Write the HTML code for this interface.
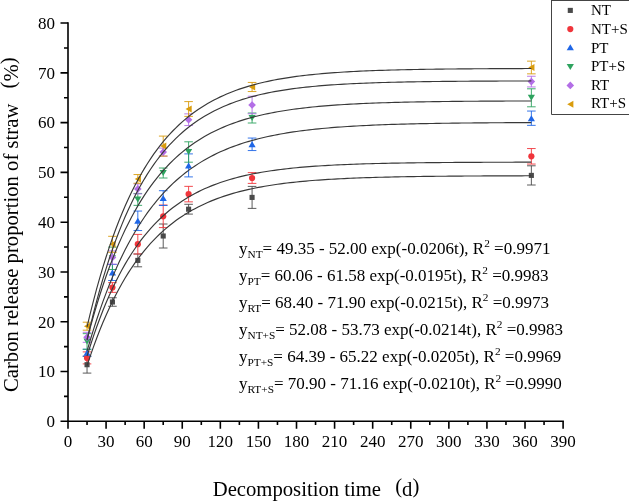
<!DOCTYPE html>
<html><head><meta charset="utf-8"><style>
html,body{margin:0;padding:0;background:#fff;width:629px;height:502px;overflow:hidden;}
svg{display:block;}
#w{position:absolute;left:0;top:0;width:629px;height:502px;will-change:transform;background:#fff;}
text{font-family:"Liberation Serif", serif;}
</style></head><body><div id="w">
<svg width="629" height="502" viewBox="0 0 629 502">
<g font-family="Liberation Serif, serif" font-size="17" fill="#000">
<text x="55.00" y="427.10" text-anchor="end">0</text>
<text x="55.00" y="377.32" text-anchor="end">10</text>
<text x="55.00" y="327.54" text-anchor="end">20</text>
<text x="55.00" y="277.76" text-anchor="end">30</text>
<text x="55.00" y="227.98" text-anchor="end">40</text>
<text x="55.00" y="178.20" text-anchor="end">50</text>
<text x="55.00" y="128.42" text-anchor="end">60</text>
<text x="55.00" y="78.64" text-anchor="end">70</text>
<text x="55.00" y="28.86" text-anchor="end">80</text>
<text x="68.00" y="447.4" text-anchor="middle">0</text>
<text x="106.08" y="447.4" text-anchor="middle">30</text>
<text x="144.17" y="447.4" text-anchor="middle">60</text>
<text x="182.25" y="447.4" text-anchor="middle">90</text>
<text x="220.34" y="447.4" text-anchor="middle">120</text>
<text x="258.42" y="447.4" text-anchor="middle">150</text>
<text x="296.51" y="447.4" text-anchor="middle">180</text>
<text x="334.59" y="447.4" text-anchor="middle">210</text>
<text x="372.68" y="447.4" text-anchor="middle">240</text>
<text x="410.76" y="447.4" text-anchor="middle">270</text>
<text x="448.85" y="447.4" text-anchor="middle">300</text>
<text x="486.93" y="447.4" text-anchor="middle">330</text>
<text x="525.02" y="447.4" text-anchor="middle">360</text>
<text x="563.10" y="447.4" text-anchor="middle">390</text>
</g>
<g><path d="M87.04,356.30V373.10M82.74,356.30H91.34M82.74,373.10H91.34" stroke="#4a4a4a" stroke-width="0.9" fill="none"/>
<path d="M112.43,297.75V306.25M108.13,297.75H116.73M108.13,306.25H116.73" stroke="#4a4a4a" stroke-width="0.9" fill="none"/>
<path d="M137.82,254.00V266.80M133.52,254.00H142.12M133.52,266.80H142.12" stroke="#4a4a4a" stroke-width="0.9" fill="none"/>
<path d="M163.21,224.00V248.00M158.91,224.00H167.51M158.91,248.00H167.51" stroke="#4a4a4a" stroke-width="0.9" fill="none"/>
<path d="M188.60,204.30V214.10M184.30,204.30H192.90M184.30,214.10H192.90" stroke="#4a4a4a" stroke-width="0.9" fill="none"/>
<path d="M252.08,186.40V208.40M247.78,186.40H256.38M247.78,208.40H256.38" stroke="#4a4a4a" stroke-width="0.9" fill="none"/>
<path d="M531.36,165.80V185.00M527.06,165.80H535.66M527.06,185.00H535.66" stroke="#4a4a4a" stroke-width="0.9" fill="none"/>
<path d="M87.04,351.90V363.90M82.74,351.90H91.34M82.74,363.90H91.34" stroke="#f0353b" stroke-width="0.9" fill="none"/>
<path d="M112.43,282.65V292.35M108.13,282.65H116.73M108.13,292.35H116.73" stroke="#f0353b" stroke-width="0.9" fill="none"/>
<path d="M137.82,234.40V254.00M133.52,234.40H142.12M133.52,254.00H142.12" stroke="#f0353b" stroke-width="0.9" fill="none"/>
<path d="M163.21,205.00V227.60M158.91,205.00H167.51M158.91,227.60H167.51" stroke="#f0353b" stroke-width="0.9" fill="none"/>
<path d="M188.60,186.35V201.85M184.30,186.35H192.90M184.30,201.85H192.90" stroke="#f0353b" stroke-width="0.9" fill="none"/>
<path d="M252.08,172.60V183.40M247.78,172.60H256.38M247.78,183.40H256.38" stroke="#f0353b" stroke-width="0.9" fill="none"/>
<path d="M531.36,148.55V164.05M527.06,148.55H535.66M527.06,164.05H535.66" stroke="#f0353b" stroke-width="0.9" fill="none"/>
<path d="M87.04,349.20V356.20M82.74,349.20H91.34M82.74,356.20H91.34" stroke="#1f66e6" stroke-width="0.9" fill="none"/>
<path d="M112.43,264.50V280.50M108.13,264.50H116.73M108.13,280.50H116.73" stroke="#1f66e6" stroke-width="0.9" fill="none"/>
<path d="M137.82,211.05V230.55M133.52,211.05H142.12M133.52,230.55H142.12" stroke="#1f66e6" stroke-width="0.9" fill="none"/>
<path d="M163.21,190.70V205.50M158.91,190.70H167.51M158.91,205.50H167.51" stroke="#1f66e6" stroke-width="0.9" fill="none"/>
<path d="M188.60,153.90V176.90M184.30,153.90H192.90M184.30,176.90H192.90" stroke="#1f66e6" stroke-width="0.9" fill="none"/>
<path d="M252.08,138.05V150.55M247.78,138.05H256.38M247.78,150.55H256.38" stroke="#1f66e6" stroke-width="0.9" fill="none"/>
<path d="M531.36,111.05V125.35M527.06,111.05H535.66M527.06,125.35H535.66" stroke="#1f66e6" stroke-width="0.9" fill="none"/>
<path d="M87.04,333.65V349.35M82.74,333.65H91.34M82.74,349.35H91.34" stroke="#2ea35f" stroke-width="0.9" fill="none"/>
<path d="M112.43,247.10V269.50M108.13,247.10H116.73M108.13,269.50H116.73" stroke="#2ea35f" stroke-width="0.9" fill="none"/>
<path d="M137.82,193.45V205.35M133.52,193.45H142.12M133.52,205.35H142.12" stroke="#2ea35f" stroke-width="0.9" fill="none"/>
<path d="M163.21,168.00V178.00M158.91,168.00H167.51M158.91,178.00H167.51" stroke="#2ea35f" stroke-width="0.9" fill="none"/>
<path d="M188.60,141.80V162.20M184.30,141.80H192.90M184.30,162.20H192.90" stroke="#2ea35f" stroke-width="0.9" fill="none"/>
<path d="M252.08,113.00V123.00M247.78,113.00H256.38M247.78,123.00H256.38" stroke="#2ea35f" stroke-width="0.9" fill="none"/>
<path d="M531.36,88.80V106.80M527.06,88.80H535.66M527.06,106.80H535.66" stroke="#2ea35f" stroke-width="0.9" fill="none"/>
<path d="M87.04,332.30V342.30M82.74,332.30H91.34M82.74,342.30H91.34" stroke="#b36ee6" stroke-width="0.9" fill="none"/>
<path d="M112.43,250.90V264.10M108.13,250.90H116.73M108.13,264.10H116.73" stroke="#b36ee6" stroke-width="0.9" fill="none"/>
<path d="M137.82,183.90V193.90M133.52,183.90H142.12M133.52,193.90H142.12" stroke="#b36ee6" stroke-width="0.9" fill="none"/>
<path d="M163.21,148.10V156.10M158.91,148.10H167.51M158.91,156.10H167.51" stroke="#b36ee6" stroke-width="0.9" fill="none"/>
<path d="M188.60,113.85V125.55M184.30,113.85H192.90M184.30,125.55H192.90" stroke="#b36ee6" stroke-width="0.9" fill="none"/>
<path d="M252.08,96.25V113.75M247.78,96.25H256.38M247.78,113.75H256.38" stroke="#b36ee6" stroke-width="0.9" fill="none"/>
<path d="M531.36,76.25V86.95M527.06,76.25H535.66M527.06,86.95H535.66" stroke="#b36ee6" stroke-width="0.9" fill="none"/>
<path d="M87.04,322.20V330.20M82.74,322.20H91.34M82.74,330.20H91.34" stroke="#d99c0d" stroke-width="0.9" fill="none"/>
<path d="M112.43,236.30V252.30M108.13,236.30H116.73M108.13,252.30H116.73" stroke="#d99c0d" stroke-width="0.9" fill="none"/>
<path d="M137.82,174.55V183.25M133.52,174.55H142.12M133.52,183.25H142.12" stroke="#d99c0d" stroke-width="0.9" fill="none"/>
<path d="M163.21,136.10V156.10M158.91,136.10H167.51M158.91,156.10H167.51" stroke="#d99c0d" stroke-width="0.9" fill="none"/>
<path d="M188.60,101.60V116.40M184.30,101.60H192.90M184.30,116.40H192.90" stroke="#d99c0d" stroke-width="0.9" fill="none"/>
<path d="M252.08,82.45V91.55M247.78,82.45H256.38M247.78,91.55H256.38" stroke="#d99c0d" stroke-width="0.9" fill="none"/>
<path d="M531.36,61.15V73.85M527.06,61.15H535.66M527.06,73.85H535.66" stroke="#d99c0d" stroke-width="0.9" fill="none"/></g>
<g><rect x="84.49" y="362.15" width="5.10" height="5.10" fill="#4a4a4a"/>
<rect x="109.88" y="299.45" width="5.10" height="5.10" fill="#4a4a4a"/>
<rect x="135.27" y="257.85" width="5.10" height="5.10" fill="#4a4a4a"/>
<rect x="160.66" y="233.45" width="5.10" height="5.10" fill="#4a4a4a"/>
<rect x="186.05" y="206.65" width="5.10" height="5.10" fill="#4a4a4a"/>
<rect x="249.53" y="194.85" width="5.10" height="5.10" fill="#4a4a4a"/>
<rect x="528.81" y="172.85" width="5.10" height="5.10" fill="#4a4a4a"/>
<circle cx="87.04" cy="357.90" r="3.10" fill="#f0353b"/>
<circle cx="112.43" cy="287.50" r="3.10" fill="#f0353b"/>
<circle cx="137.82" cy="244.20" r="3.10" fill="#f0353b"/>
<circle cx="163.21" cy="216.30" r="3.10" fill="#f0353b"/>
<circle cx="188.60" cy="194.10" r="3.10" fill="#f0353b"/>
<circle cx="252.08" cy="178.00" r="3.10" fill="#f0353b"/>
<circle cx="531.36" cy="156.30" r="3.10" fill="#f0353b"/>
<path d="M87.04,349.70L90.64,355.70L83.44,355.70Z" fill="#1f66e6"/>
<path d="M112.43,269.50L116.03,275.50L108.83,275.50Z" fill="#1f66e6"/>
<path d="M137.82,217.80L141.42,223.80L134.22,223.80Z" fill="#1f66e6"/>
<path d="M163.21,195.10L166.81,201.10L159.61,201.10Z" fill="#1f66e6"/>
<path d="M188.60,162.40L192.20,168.40L185.00,168.40Z" fill="#1f66e6"/>
<path d="M252.08,141.30L255.68,147.30L248.48,147.30Z" fill="#1f66e6"/>
<path d="M531.36,115.20L534.96,121.20L527.76,121.20Z" fill="#1f66e6"/>
<path d="M87.04,344.50L90.64,338.50L83.44,338.50Z" fill="#2ea35f"/>
<path d="M112.43,261.30L116.03,255.30L108.83,255.30Z" fill="#2ea35f"/>
<path d="M137.82,202.40L141.42,196.40L134.22,196.40Z" fill="#2ea35f"/>
<path d="M163.21,176.00L166.81,170.00L159.61,170.00Z" fill="#2ea35f"/>
<path d="M188.60,155.00L192.20,149.00L185.00,149.00Z" fill="#2ea35f"/>
<path d="M252.08,121.00L255.68,115.00L248.48,115.00Z" fill="#2ea35f"/>
<path d="M531.36,100.80L534.96,94.80L527.76,94.80Z" fill="#2ea35f"/>
<path d="M87.04,333.50L90.84,337.30L87.04,341.10L83.24,337.30Z" fill="#b36ee6"/>
<path d="M112.43,253.70L116.23,257.50L112.43,261.30L108.63,257.50Z" fill="#b36ee6"/>
<path d="M137.82,185.10L141.62,188.90L137.82,192.70L134.02,188.90Z" fill="#b36ee6"/>
<path d="M163.21,148.30L167.01,152.10L163.21,155.90L159.41,152.10Z" fill="#b36ee6"/>
<path d="M188.60,115.90L192.40,119.70L188.60,123.50L184.80,119.70Z" fill="#b36ee6"/>
<path d="M252.08,101.20L255.88,105.00L252.08,108.80L248.28,105.00Z" fill="#b36ee6"/>
<path d="M531.36,77.80L535.16,81.60L531.36,85.40L527.56,81.60Z" fill="#b36ee6"/>
<path d="M83.94,326.20L90.14,322.70L90.14,329.70Z" fill="#d99c0d"/>
<path d="M109.33,244.30L115.53,240.80L115.53,247.80Z" fill="#d99c0d"/>
<path d="M134.72,178.90L140.92,175.40L140.92,182.40Z" fill="#d99c0d"/>
<path d="M160.11,146.10L166.31,142.60L166.31,149.60Z" fill="#d99c0d"/>
<path d="M185.50,109.00L191.70,105.50L191.70,112.50Z" fill="#d99c0d"/>
<path d="M248.98,87.00L255.18,83.50L255.18,90.50Z" fill="#d99c0d"/>
<path d="M528.26,67.50L534.46,64.00L534.46,71.00Z" fill="#d99c0d"/></g>
<g><polyline points="87.04,365.68 90.22,356.14 93.39,347.08 96.56,338.48 99.74,330.30 102.91,322.54 106.08,315.16 109.26,308.16 112.43,301.51 115.61,295.19 118.78,289.19 121.95,283.49 125.13,278.08 128.30,272.93 131.47,268.05 134.65,263.41 137.82,259.00 141.00,254.82 144.17,250.84 147.34,247.07 150.52,243.48 153.69,240.08 156.86,236.84 160.04,233.77 163.21,230.85 166.39,228.08 169.56,225.45 172.73,222.95 175.91,220.57 179.08,218.32 182.25,216.18 185.43,214.14 188.60,212.21 191.78,210.37 194.95,208.63 198.12,206.97 201.30,205.40 204.47,203.90 207.64,202.49 210.82,201.14 213.99,199.86 217.16,198.64 220.34,197.49 223.51,196.39 226.69,195.35 229.86,194.36 233.03,193.42 236.21,192.53 239.38,191.68 242.55,190.87 245.73,190.11 248.90,189.38 252.08,188.69 255.25,188.04 258.42,187.41 261.60,186.82 264.77,186.26 267.94,185.73 271.12,185.22 274.29,184.74 277.47,184.28 280.64,183.85 283.81,183.44 286.99,183.05 290.16,182.67 293.33,182.32 296.51,181.98 299.68,181.67 302.86,181.36 306.03,181.08 309.20,180.80 312.38,180.54 315.55,180.30 318.72,180.06 321.90,179.84 325.07,179.63 328.24,179.43 331.42,179.24 334.59,179.06 337.77,178.89 340.94,178.72 344.11,178.57 347.29,178.42 350.46,178.28 353.63,178.15 356.81,178.02 359.98,177.90 363.16,177.79 366.33,177.68 369.50,177.58 372.68,177.48 375.85,177.39 379.02,177.30 382.20,177.22 385.37,177.14 388.55,177.06 391.72,176.99 394.89,176.92 398.07,176.86 401.24,176.80 404.41,176.74 407.59,176.68 410.76,176.63 413.94,176.58 417.11,176.53 420.28,176.49 423.46,176.44 426.63,176.40 429.80,176.37 432.98,176.33 436.15,176.29 439.33,176.26 442.50,176.23 445.67,176.20 448.85,176.17 452.02,176.14 455.19,176.12 458.37,176.09 461.54,176.07 464.71,176.05 467.89,176.03 471.06,176.01 474.24,175.99 477.41,175.97 480.58,175.96 483.76,175.94 486.93,175.92 490.10,175.91 493.28,175.90 496.45,175.88 499.63,175.87 502.80,175.86 505.97,175.85 509.15,175.84 512.32,175.83 515.49,175.82 518.67,175.81 521.84,175.80 525.02,175.79 528.19,175.78 531.36,175.78" fill="none" stroke="#383838" stroke-width="1.15"/>
<polyline points="87.04,356.07 90.22,345.97 93.39,336.38 96.56,327.30 99.74,318.69 102.91,310.53 106.08,302.80 109.26,295.47 112.43,288.52 115.61,281.93 118.78,275.68 121.95,269.76 125.13,264.15 128.30,258.83 131.47,253.79 134.65,249.01 137.82,244.48 141.00,240.19 144.17,236.11 147.34,232.26 150.52,228.60 153.69,225.13 156.86,221.85 160.04,218.73 163.21,215.78 166.39,212.98 169.56,210.32 172.73,207.81 175.91,205.43 179.08,203.17 182.25,201.02 185.43,198.99 188.60,197.07 191.78,195.24 194.95,193.51 198.12,191.88 201.30,190.32 204.47,188.85 207.64,187.45 210.82,186.13 213.99,184.87 217.16,183.68 220.34,182.56 223.51,181.49 226.69,180.48 229.86,179.52 233.03,178.61 236.21,177.74 239.38,176.93 242.55,176.15 245.73,175.42 248.90,174.72 252.08,174.06 255.25,173.43 258.42,172.84 261.60,172.28 264.77,171.74 267.94,171.24 271.12,170.76 274.29,170.31 277.47,169.88 280.64,169.47 283.81,169.08 286.99,168.71 290.16,168.37 293.33,168.04 296.51,167.73 299.68,167.43 302.86,167.15 306.03,166.88 309.20,166.63 312.38,166.39 315.55,166.17 318.72,165.95 321.90,165.75 325.07,165.56 328.24,165.37 331.42,165.20 334.59,165.03 337.77,164.88 340.94,164.73 344.11,164.59 347.29,164.46 350.46,164.33 353.63,164.21 356.81,164.10 359.98,163.99 363.16,163.89 366.33,163.80 369.50,163.71 372.68,163.62 375.85,163.54 379.02,163.46 382.20,163.39 385.37,163.32 388.55,163.25 391.72,163.19 394.89,163.13 398.07,163.07 401.24,163.02 404.41,162.97 407.59,162.92 410.76,162.87 413.94,162.83 417.11,162.79 420.28,162.75 423.46,162.71 426.63,162.68 429.80,162.65 432.98,162.61 436.15,162.59 439.33,162.56 442.50,162.53 445.67,162.51 448.85,162.48 452.02,162.46 455.19,162.44 458.37,162.42 461.54,162.40 464.71,162.38 467.89,162.36 471.06,162.35 474.24,162.33 477.41,162.31 480.58,162.30 483.76,162.29 486.93,162.27 490.10,162.26 493.28,162.25 496.45,162.24 499.63,162.23 502.80,162.22 505.97,162.21 509.15,162.20 512.32,162.20 515.49,162.19 518.67,162.18 521.84,162.17 525.02,162.17 528.19,162.16 531.36,162.15" fill="none" stroke="#383838" stroke-width="1.15"/>
<polyline points="87.04,351.13 90.22,340.24 93.39,329.87 96.56,319.99 99.74,310.59 102.91,301.63 106.08,293.10 109.26,284.97 112.43,277.23 115.61,269.86 118.78,262.84 121.95,256.16 125.13,249.79 128.30,243.72 131.47,237.95 134.65,232.45 137.82,227.21 141.00,222.22 144.17,217.46 147.34,212.94 150.52,208.62 153.69,204.52 156.86,200.61 160.04,196.88 163.21,193.33 166.39,189.96 169.56,186.74 172.73,183.67 175.91,180.75 179.08,177.97 182.25,175.33 185.43,172.80 188.60,170.40 191.78,168.11 194.95,165.93 198.12,163.86 201.30,161.88 204.47,160.00 207.64,158.21 210.82,156.50 213.99,154.87 217.16,153.33 220.34,151.85 223.51,150.45 226.69,149.11 229.86,147.83 233.03,146.62 236.21,145.46 239.38,144.36 242.55,143.31 245.73,142.31 248.90,141.36 252.08,140.46 255.25,139.59 258.42,138.77 261.60,137.99 264.77,137.24 267.94,136.53 271.12,135.86 274.29,135.21 277.47,134.60 280.64,134.02 283.81,133.46 286.99,132.93 290.16,132.42 293.33,131.94 296.51,131.49 299.68,131.05 302.86,130.63 306.03,130.24 309.20,129.86 312.38,129.50 315.55,129.16 318.72,128.84 321.90,128.53 325.07,128.23 328.24,127.95 331.42,127.68 334.59,127.43 337.77,127.18 340.94,126.95 344.11,126.73 347.29,126.52 350.46,126.32 353.63,126.13 356.81,125.95 359.98,125.78 363.16,125.61 366.33,125.46 369.50,125.31 372.68,125.17 375.85,125.03 379.02,124.90 382.20,124.78 385.37,124.66 388.55,124.55 391.72,124.44 394.89,124.34 398.07,124.25 401.24,124.16 404.41,124.07 407.59,123.99 410.76,123.91 413.94,123.83 417.11,123.76 420.28,123.69 423.46,123.63 426.63,123.56 429.80,123.50 432.98,123.45 436.15,123.39 439.33,123.34 442.50,123.29 445.67,123.25 448.85,123.20 452.02,123.16 455.19,123.12 458.37,123.08 461.54,123.05 464.71,123.01 467.89,122.98 471.06,122.95 474.24,122.92 477.41,122.89 480.58,122.86 483.76,122.84 486.93,122.81 490.10,122.79 493.28,122.77 496.45,122.75 499.63,122.73 502.80,122.71 505.97,122.69 509.15,122.67 512.32,122.65 515.49,122.64 518.67,122.62 521.84,122.61 525.02,122.60 528.19,122.58 531.36,122.57" fill="none" stroke="#383838" stroke-width="1.15"/>
<polyline points="87.04,339.49 90.22,327.56 93.39,316.23 96.56,305.47 99.74,295.24 102.91,285.52 106.08,276.29 109.26,267.52 112.43,259.19 115.61,251.28 118.78,243.76 121.95,236.62 125.13,229.83 128.30,223.38 131.47,217.26 134.65,211.44 137.82,205.91 141.00,200.65 144.17,195.66 147.34,190.92 150.52,186.42 153.69,182.14 156.86,178.07 160.04,174.21 163.21,170.54 166.39,167.06 169.56,163.75 172.73,160.60 175.91,157.61 179.08,154.77 182.25,152.07 185.43,149.51 188.60,147.07 191.78,144.76 194.95,142.56 198.12,140.47 201.30,138.49 204.47,136.61 207.64,134.82 210.82,133.11 213.99,131.50 217.16,129.96 220.34,128.50 223.51,127.12 226.69,125.80 229.86,124.55 233.03,123.36 236.21,122.23 239.38,121.16 242.55,120.14 245.73,119.17 248.90,118.26 252.08,117.38 255.25,116.55 258.42,115.76 261.60,115.01 264.77,114.30 267.94,113.63 271.12,112.98 274.29,112.37 277.47,111.79 280.64,111.24 283.81,110.72 286.99,110.22 290.16,109.75 293.33,109.30 296.51,108.87 299.68,108.47 302.86,108.08 306.03,107.72 309.20,107.37 312.38,107.04 315.55,106.73 318.72,106.43 321.90,106.15 325.07,105.88 328.24,105.62 331.42,105.38 334.59,105.15 337.77,104.93 340.94,104.72 344.11,104.53 347.29,104.34 350.46,104.16 353.63,103.99 356.81,103.83 359.98,103.68 363.16,103.53 366.33,103.39 369.50,103.26 372.68,103.14 375.85,103.02 379.02,102.91 382.20,102.80 385.37,102.70 388.55,102.60 391.72,102.51 394.89,102.42 398.07,102.34 401.24,102.26 404.41,102.19 407.59,102.12 410.76,102.05 413.94,101.98 417.11,101.92 420.28,101.87 423.46,101.81 426.63,101.76 429.80,101.71 432.98,101.66 436.15,101.62 439.33,101.57 442.50,101.53 445.67,101.50 448.85,101.46 452.02,101.42 455.19,101.39 458.37,101.36 461.54,101.33 464.71,101.30 467.89,101.28 471.06,101.25 474.24,101.23 477.41,101.20 480.58,101.18 483.76,101.16 486.93,101.14 490.10,101.12 493.28,101.10 496.45,101.09 499.63,101.07 502.80,101.06 505.97,101.04 509.15,101.03 512.32,101.02 515.49,101.00 518.67,100.99 521.84,100.98 525.02,100.97 528.19,100.96 531.36,100.95" fill="none" stroke="#383838" stroke-width="1.15"/>
<polyline points="87.04,340.06 90.22,326.49 93.39,313.63 96.56,301.45 99.74,289.90 102.91,278.96 106.08,268.59 109.26,258.76 112.43,249.45 115.61,240.63 118.78,232.26 121.95,224.34 125.13,216.83 128.30,209.71 131.47,202.96 134.65,196.57 137.82,190.51 141.00,184.77 144.17,179.33 147.34,174.17 150.52,169.29 153.69,164.66 156.86,160.27 160.04,156.11 163.21,152.17 166.39,148.43 169.56,144.90 172.73,141.54 175.91,138.36 179.08,135.35 182.25,132.50 185.43,129.79 188.60,127.23 191.78,124.80 194.95,122.50 198.12,120.31 201.30,118.25 204.47,116.29 207.64,114.43 210.82,112.67 213.99,111.00 217.16,109.42 220.34,107.93 223.51,106.51 226.69,105.16 229.86,103.89 233.03,102.68 236.21,101.53 239.38,100.45 242.55,99.42 245.73,98.45 248.90,97.52 252.08,96.65 255.25,95.82 258.42,95.03 261.60,94.29 264.77,93.58 267.94,92.92 271.12,92.28 274.29,91.68 277.47,91.11 280.64,90.57 283.81,90.06 286.99,89.58 290.16,89.12 293.33,88.68 296.51,88.27 299.68,87.88 302.86,87.51 306.03,87.16 309.20,86.83 312.38,86.51 315.55,86.21 318.72,85.93 321.90,85.66 325.07,85.41 328.24,85.17 331.42,84.94 334.59,84.72 337.77,84.52 340.94,84.32 344.11,84.14 347.29,83.96 350.46,83.80 353.63,83.64 356.81,83.49 359.98,83.35 363.16,83.22 366.33,83.09 369.50,82.97 372.68,82.86 375.85,82.75 379.02,82.65 382.20,82.55 385.37,82.46 388.55,82.38 391.72,82.29 394.89,82.22 398.07,82.14 401.24,82.07 404.41,82.01 407.59,81.94 410.76,81.88 413.94,81.83 417.11,81.77 420.28,81.72 423.46,81.67 426.63,81.63 429.80,81.59 432.98,81.54 436.15,81.51 439.33,81.47 442.50,81.43 445.67,81.40 448.85,81.37 452.02,81.34 455.19,81.31 458.37,81.29 461.54,81.26 464.71,81.24 467.89,81.21 471.06,81.19 474.24,81.17 477.41,81.15 480.58,81.14 483.76,81.12 486.93,81.10 490.10,81.09 493.28,81.07 496.45,81.06 499.63,81.04 502.80,81.03 505.97,81.02 509.15,81.01 512.32,81.00 515.49,80.99 518.67,80.98 521.84,80.97 525.02,80.96 528.19,80.95 531.36,80.94" fill="none" stroke="#383838" stroke-width="1.15"/>
<polyline points="87.04,326.88 90.22,313.65 93.39,301.11 96.56,289.20 99.74,277.91 102.91,267.19 106.08,257.02 109.26,247.37 112.43,238.22 115.61,229.53 118.78,221.29 121.95,213.47 125.13,206.04 128.30,199.00 131.47,192.32 134.65,185.98 137.82,179.96 141.00,174.26 144.17,168.84 147.34,163.70 150.52,158.82 153.69,154.20 156.86,149.81 160.04,145.64 163.21,141.69 166.39,137.94 169.56,134.38 172.73,131.00 175.91,127.80 179.08,124.76 182.25,121.87 185.43,119.14 188.60,116.54 191.78,114.08 194.95,111.74 198.12,109.52 201.30,107.41 204.47,105.42 207.64,103.52 210.82,101.72 213.99,100.02 217.16,98.40 220.34,96.86 223.51,95.40 226.69,94.02 229.86,92.71 233.03,91.46 236.21,90.28 239.38,89.16 242.55,88.10 245.73,87.09 248.90,86.13 252.08,85.22 255.25,84.36 258.42,83.54 261.60,82.76 264.77,82.03 267.94,81.33 271.12,80.66 274.29,80.03 277.47,79.44 280.64,78.87 283.81,78.33 286.99,77.82 290.16,77.34 293.33,76.88 296.51,76.44 299.68,76.03 302.86,75.64 306.03,75.27 309.20,74.91 312.38,74.58 315.55,74.26 318.72,73.96 321.90,73.67 325.07,73.40 328.24,73.14 331.42,72.90 334.59,72.67 337.77,72.45 340.94,72.24 344.11,72.04 347.29,71.85 350.46,71.67 353.63,71.50 356.81,71.34 359.98,71.19 363.16,71.04 366.33,70.91 369.50,70.78 372.68,70.65 375.85,70.54 379.02,70.42 382.20,70.32 385.37,70.22 388.55,70.12 391.72,70.03 394.89,69.95 398.07,69.87 401.24,69.79 404.41,69.72 407.59,69.65 410.76,69.58 413.94,69.52 417.11,69.46 420.28,69.40 423.46,69.35 426.63,69.30 429.80,69.25 432.98,69.21 436.15,69.16 439.33,69.12 442.50,69.08 445.67,69.05 448.85,69.01 452.02,68.98 455.19,68.95 458.37,68.92 461.54,68.89 464.71,68.86 467.89,68.83 471.06,68.81 474.24,68.79 477.41,68.77 480.58,68.74 483.76,68.72 486.93,68.71 490.10,68.69 493.28,68.67 496.45,68.66 499.63,68.64 502.80,68.63 505.97,68.61 509.15,68.60 512.32,68.59 515.49,68.58 518.67,68.56 521.84,68.55 525.02,68.54 528.19,68.53 531.36,68.53" fill="none" stroke="#383838" stroke-width="1.15"/></g>
<g><path d="M68.0,22.26V422.10M67.20,421.3H563.90" stroke="#000" stroke-width="1.6" fill="none"/>
<path d="M60.50,421.30H68.0 M64.00,396.41H68.0 M60.50,371.52H68.0 M64.00,346.63H68.0 M60.50,321.74H68.0 M64.00,296.85H68.0 M60.50,271.96H68.0 M64.00,247.07H68.0 M60.50,222.18H68.0 M64.00,197.29H68.0 M60.50,172.40H68.0 M64.00,147.51H68.0 M60.50,122.62H68.0 M64.00,97.73H68.0 M60.50,72.84H68.0 M64.00,47.95H68.0 M60.50,23.06H68.0 M68.00,421.3V428.80 M87.04,421.3V424.90 M106.08,421.3V428.80 M125.13,421.3V424.90 M144.17,421.3V428.80 M163.21,421.3V424.90 M182.25,421.3V428.80 M201.30,421.3V424.90 M220.34,421.3V428.80 M239.38,421.3V424.90 M258.42,421.3V428.80 M277.47,421.3V424.90 M296.51,421.3V428.80 M315.55,421.3V424.90 M334.59,421.3V428.80 M353.63,421.3V424.90 M372.68,421.3V428.80 M391.72,421.3V424.90 M410.76,421.3V428.80 M429.80,421.3V424.90 M448.85,421.3V428.80 M467.89,421.3V424.90 M486.93,421.3V428.80 M505.97,421.3V424.90 M525.02,421.3V428.80 M544.06,421.3V424.90 M563.10,421.3V428.80" stroke="#000" stroke-width="1.6" fill="none"/></g>
<g font-family="Liberation Serif, serif" font-size="17" fill="#000">
<text x="239" y="253.60" class="eq">y<tspan font-size="11.3" dy="4">NT</tspan><tspan dy="-4">= 49.35 - 52.00 exp(-0.0206t), R</tspan><tspan font-size="11.3" dy="-7">2</tspan><tspan dy="7"> =0.9971</tspan></text>
<text x="239" y="280.76" class="eq">y<tspan font-size="11.3" dy="4">PT</tspan><tspan dy="-4">= 60.06 - 61.58 exp(-0.0195t), R</tspan><tspan font-size="11.3" dy="-7">2</tspan><tspan dy="7"> =0.9983</tspan></text>
<text x="239" y="307.92" class="eq">y<tspan font-size="11.3" dy="4">RT</tspan><tspan dy="-4">= 68.40 - 71.90 exp(-0.0215t), R</tspan><tspan font-size="11.3" dy="-7">2</tspan><tspan dy="7"> =0.9973</tspan></text>
<text x="239" y="335.08" class="eq">y<tspan font-size="11.3" dy="4">NT+S</tspan><tspan dy="-4">= 52.08 - 53.73 exp(-0.0214t), R</tspan><tspan font-size="11.3" dy="-7">2</tspan><tspan dy="7"> =0.9983</tspan></text>
<text x="239" y="362.24" class="eq">y<tspan font-size="11.3" dy="4">PT+S</tspan><tspan dy="-4">= 64.39 - 65.22 exp(-0.0205t), R</tspan><tspan font-size="11.3" dy="-7">2</tspan><tspan dy="7"> =0.9969</tspan></text>
<text x="239" y="389.40" class="eq">y<tspan font-size="11.3" dy="4">RT+S</tspan><tspan dy="-4">= 70.90 - 71.16 exp(-0.0210t), R</tspan><tspan font-size="11.3" dy="-7">2</tspan><tspan dy="7"> =0.9990</tspan></text>
</g>
<g font-family="Liberation Serif, serif" font-size="15" fill="#000">
<path d="M551.5,0.5H640M551.5,0V114.5H640" stroke="#444" stroke-width="1" fill="none"/>
<rect x="567.75" y="7.85" width="5.10" height="5.10" fill="#4a4a4a"/>
<text x="591" y="15.30" class="leg">NT</text>
<circle cx="570.30" cy="29.10" r="3.10" fill="#f0353b"/>
<text x="591" y="34.40" class="leg">NT+S</text>
<path d="M570.30,44.30L573.90,50.30L566.70,50.30Z" fill="#1f66e6"/>
<text x="591" y="53.10" class="leg">PT</text>
<path d="M570.30,69.90L573.90,63.90L566.70,63.90Z" fill="#2ea35f"/>
<text x="591" y="71.40" class="leg">PT+S</text>
<path d="M570.30,81.60L574.10,85.40L570.30,89.20L566.50,85.40Z" fill="#b36ee6"/>
<text x="591" y="90.20" class="leg">RT</text>
<path d="M567.20,104.20L573.40,100.70L573.40,107.70Z" fill="#d99c0d"/>
<text x="591" y="108.40" class="leg">RT+S</text>
</g>
<g font-family="Liberation Serif, serif" font-size="20.7" fill="#000">
<text transform="translate(17.8,392.05) rotate(-90)" x="0" y="0">Carbon release proportion of straw<tspan x="303.65" dy="-3">(</tspan><tspan dy="3">%</tspan><tspan dy="-3">)</tspan></text>
<text x="212.7" y="495.7">Decomposition time</text>
<text x="395.2" y="493">(<tspan dy="2.7">d</tspan><tspan dy="-2.7">)</tspan></text>
</g>
</svg>
</div></body></html>
